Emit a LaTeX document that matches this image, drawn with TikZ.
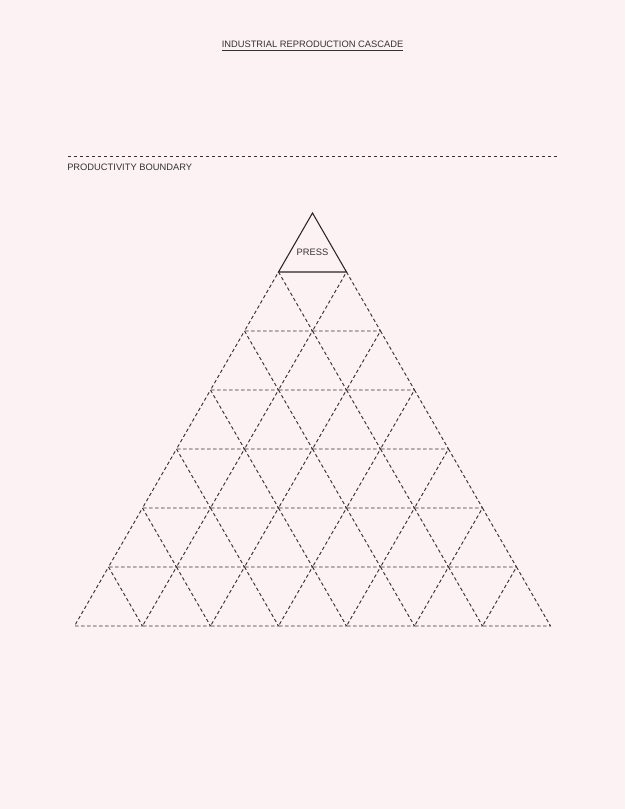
\documentclass[tikz,border=0pt]{standalone}
\usepackage{fontspec}
\setmainfont{Liberation Sans}
\definecolor{bg}{HTML}{FDF2F3}
\definecolor{ink}{HTML}{333333}
\definecolor{dashink}{HTML}{333333}
\begin{document}
\begin{tikzpicture}[x=0.75pt,y=-0.75pt,
  lbl/.style={font=\fontsize{7}{8}\selectfont, text=ink, inner sep=0pt},
  cell/.style={draw=dashink, line width=0.7pt, dash pattern=on 2.6pt off 1.9pt},
  bound/.style={draw=dashink, line width=0.7pt, dash pattern=on 2.6pt off 1.9pt},
  solidtri/.style={draw=black!85, line width=0.8pt, line join=miter}]
\fill[bg] (0,0) rectangle (625,809);
\useasboundingbox (0,0) rectangle (625,809);
\node[lbl] (title) at (312.5,46) {\underline{INDUSTRIAL REPRODUCTION CASCADE}};
\coordinate (bl) at (68,156);
\coordinate (br) at (557,156);
\draw[bound] (bl) -- (br);
\node[lbl, anchor=west] (boundary) at (67,167) {PRODUCTIVITY BOUNDARY};
% cascade of dashed triangles
\foreach \k in {2,...,7}{
  \pgfmathtruncatemacro{\km}{\k-1}
  \foreach \j in {0,...,\km}{
    \pgfmathsetmacro{\tx}{312.5-(\k-1)*34+68*\j}
    \pgfmathsetmacro{\ty}{213+(\k-1)*59}
    \draw[cell] (\tx,\ty) -- (\tx+34,\ty+59) -- (\tx-34,\ty+59) -- cycle;
  }
}
% top press triangle
\coordinate (apex) at (312.5,213);
\coordinate (pl) at (278.5,272);
\coordinate (pr) at (346.5,272);
\draw[solidtri] (apex) -- (pr) -- (pl) -- cycle;
\node[lbl] (press) at (312.5,252.5) {PRESS};
\end{tikzpicture}
\end{document}
